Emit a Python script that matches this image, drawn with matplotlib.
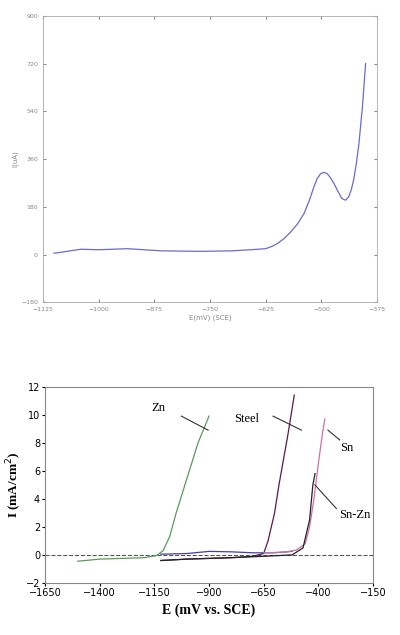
import matplotlib
matplotlib.use("Agg")
import matplotlib.pyplot as plt

# top panel
top_x = [-1100,-1088,-1060,-1039,-1000,-935,-860,-771,-700,-651,-625,-612,-599,-584,-569,-554,-539,-527,-517,-510,-502,-495,-487,-480,-472,-463,-454,-446,-439,-433,-428,-422,-416,-408,-401]
top_y = [5,7.5,15,20,18,22,14,12,14,19,22,30,41,60,85,115,155,205,255,285,305,310,305,290,268,238,211,205,217,245,280,340,418,560,720]
top_xticks = [-1125,-1000,-875,-750,-625,-500,-375]
top_yticks = [-180,0,180,360,540,720,900]

# bottom panel
zn_x = [-1500,-1400,-1300,-1200,-1140,-1110,-1080,-1050,-1000,-950,-900]
zn_y = [-0.45,-0.3,-0.25,-0.2,-0.05,0.3,1.3,3.0,5.5,8.0,9.9]
steel_x = [-1120,-1000,-900,-800,-700,-650,-630,-600,-580,-540,-510]
steel_y = [-0.4,-0.3,-0.25,-0.2,-0.1,0.1,1.0,3.0,5.0,8.5,11.4]
base_x = [-1120,-1000,-900,-800,-700,-600,-520]
base_y = [0.05,0.1,0.25,0.22,0.15,0.15,0.25]
sn_x = [-650,-550,-500,-460,-440,-420,-400,-380,-370]
sn_y = [0.15,0.2,0.35,0.8,2.0,4.0,6.5,8.8,9.7]
snzn_x = [-1120,-1000,-800,-650,-520,-470,-440,-425,-415]
snzn_y = [-0.4,-0.3,-0.2,-0.1,0.0,0.5,2.5,5.0,5.8]
bot_xticks = [-1650,-1400,-1150,-900,-650,-400,-150]
bot_yticks = [-2,0,2,4,6,8,10,12]

fig = plt.figure(figsize=(4.0,6.35), dpi=100)
ax1 = fig.add_axes([0.107,0.524,0.836,0.451])
ax1.plot(top_x, top_y, color='#6a6ad0', lw=0.9)
ax1.set_xlim(-1125,-375); ax1.set_ylim(-180,900)
ax1.set_xticks(top_xticks); ax1.set_yticks(top_yticks)
ax1.tick_params(labelsize=4.5, colors='#888888', direction='in', length=2, top=True, right=True)
for s in ax1.spines.values(): s.set_color('#aaaaaa'); s.set_linewidth(0.6)
ax1.set_xlabel('E(mV) (SCE)', fontsize=5, color='#888888', labelpad=2)
ax1.set_ylabel('I(uA)', fontsize=5, color='#888888', labelpad=2)

ax2 = fig.add_axes([0.1125,0.082,0.82,0.309])
ax2.axhline(0, color='#555555', ls='--', lw=0.8)
ax2.plot(zn_x, zn_y, color='#5a9a5a', lw=0.9)
ax2.plot(base_x, base_y, color='#4040a0', lw=0.9)
ax2.plot(steel_x, steel_y, color='#5a1a4a', lw=0.9)
ax2.plot(sn_x, sn_y, color='#d070a0', lw=0.9)
ax2.plot(snzn_x, snzn_y, color='#222222', lw=0.9)
ax2.set_xlim(-1650,-150); ax2.set_ylim(-2,12)
ax2.set_xticks(bot_xticks); ax2.set_yticks(bot_yticks)
ax2.tick_params(labelsize=7, direction='out', length=2, pad=1.5)
for s in ax2.spines.values(): s.set_color('#888888')
serif = 'Liberation Serif'
ax2.set_xlabel('E (mV vs. SCE)', fontsize=10, fontweight='bold', family=serif)
ax2.set_ylabel('I (mA/cm$^2$)', fontsize=9.5, fontweight='bold', family=serif, labelpad=1)
tk = dict(fontsize=9, family=serif, ha='center', va='center')
ax2.text(-1132,10.5,'Zn',**tk); ax2.plot([-1026,-904],[9.9,8.9],color='#333333',lw=0.8)
ax2.text(-729,9.7,'Steel',**tk); ax2.plot([-607,-477],[9.9,8.9],color='#333333',lw=0.8)
ax2.text(-272,7.6,'Sn',**tk); ax2.plot([-356,-302],[8.9,8.2],color='#333333',lw=0.8)
ax2.text(-234,2.85,'Sn-Zn',**tk); ax2.plot([-416,-317],[5.0,3.3],color='#333333',lw=0.8)
fig.savefig('out.png', dpi=100)
